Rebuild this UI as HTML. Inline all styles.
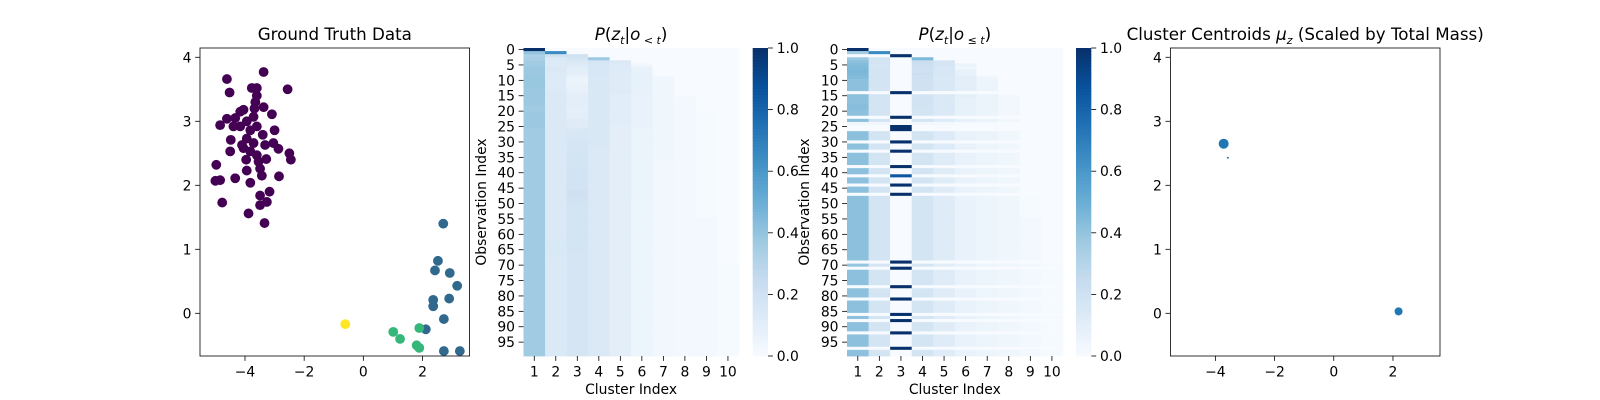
<!DOCTYPE html>
<html><head><meta charset="utf-8">
<style>
html,body{margin:0;padding:0;background:#fff;}
svg{display:block;font-family:"DejaVu Sans","Liberation Sans",sans-serif;}
</style></head>
<body>
<svg id="fig" width="1600" height="400" viewBox="0 0 1600 400" xmlns="http://www.w3.org/2000/svg"></svg>
<script>
// ---------- DATA ----------
const gtX=[-4.61,-3.37,-4.52,-3.77,-3.6,-3.6,-3.65,-3.68,-2.56,-3.37,-3.09,-4.05,-4.16,-4.61,-4.84,-4.33,-4.39,-4.16,-3.94,-3.71,-3.6,-3.82,-3.0,-3.4,-4.48,-4.1,-3.94,-3.71,-3.32,-3.04,-2.87,-2.5,-2.45,-4.5,-4.05,-3.82,-3.6,-3.96,-3.54,-3.28,-4.97,-3.94,-3.49,-3.43,-5.0,-4.84,-4.33,-3.82,-2.85,-3.49,-3.17,-3.26,-3.49,-4.77,-3.88,-3.34,
 2.7,2.52,2.42,2.92,3.17,2.36,2.9,2.36,2.72,2.11,2.72,3.26,
 1.01,1.24,1.89,1.8,1.89,
 -0.61];
const gtY=[3.66,3.77,3.45,3.52,3.52,3.4,3.3,3.2,3.5,3.22,3.11,3.18,3.15,3.04,2.94,3.05,2.92,2.92,3.0,3.07,2.92,2.86,2.86,2.79,2.71,2.63,2.73,2.66,2.63,2.66,2.57,2.5,2.4,2.53,2.58,2.53,2.47,2.4,2.37,2.41,2.32,2.23,2.26,2.15,2.07,2.08,2.11,2.04,2.14,1.84,1.9,1.74,1.69,1.73,1.56,1.41,
 1.4,0.82,0.67,0.63,0.43,0.21,0.23,0.11,-0.09,-0.25,-0.59,-0.59,
 -0.29,-0.4,-0.23,-0.5,-0.54,
 -0.17];
const gtLabel=[0,0,0,0,0,0,0,0,0,0,0,0,0,0,0,0,0,0,0,0,0,0,0,0,0,0,0,0,0,0,0,0,0,0,0,0,0,0,0,0,0,0,0,0,0,0,0,0,0,0,0,0,0,0,0,0,
 1,1,1,1,1,1,1,1,1,1,1,1, 2,2,2,2,2, 3];
const centX=[-3.72,-3.78,-3.58,2.19];
const centY=[2.65,2.66,2.43,0.03];
const centR=[5,2,1,4];
const clusterTicks=[1,2,3,4,5,6,7,8,9,10];
const obsTicks=[0,5,10,15,20,25,30,35,40,45,50,55,60,65,70,75,80,85,90,95];
const cbarTicks=["0.0","0.2","0.4","0.6","0.8","1.0"];
const axTicksX=[-4,-2,0,2];
const axTicksY=[0,1,2,3,4];

const prior=[
[1,0,0,0,0,0,0,0,0,0],
[.40,.65,0,0,0,0,0,0,0,0],
[.33,.20,.20,0,0,0,0,0,0,0],
[.34,.14,.18,.38,0,0,0,0,0,0],
[.36,.13,.14,.17,.14,0,0,0,0,0],
[.37,.13,.13,.16,.13,.03,0,0,0,0],
[.38,.14,.11,.16,.13,.07,0,0,0,0],
[.38,.14,.10,.16,.13,.08,0,0,0,0],
[.38,.13,.09,.16,.12,.08,0,0,0,0],
[.39,.13,.07,.15,.12,.08,.03,0,0,0],
[.39,.13,.06,.15,.12,.08,.04,0,0,0],
[.39,.13,.06,.15,.12,.08,.04,0,0,0],
[.39,.13,.07,.15,.12,.08,.04,0,0,0],
[.38,.13,.07,.15,.12,.08,.04,0,0,0],
[.38,.14,.09,.15,.12,.08,.04,0,0,0],
[.38,.14,.10,.15,.11,.07,.04,.01,0,0],
[.38,.14,.10,.15,.11,.07,.04,.02,0,0],
[.38,.14,.10,.15,.11,.07,.04,.02,0,0],
[.38,.14,.10,.15,.11,.07,.04,.02,0,0],
[.37,.14,.09,.15,.11,.07,.04,.02,0,0],
[.37,.14,.09,.15,.11,.07,.04,.02,.01,0],
[.38,.14,.10,.15,.11,.07,.04,.02,.01,0],
[.38,.14,.10,.15,.11,.07,.04,.02,.01,0],
[.38,.14,.12,.15,.11,.07,.04,.02,.01,0],
[.38,.14,.12,.15,.11,.07,.04,.02,.01,0],
[.38,.14,.12,.15,.10,.07,.04,.02,.01,0],
[.37,.14,.15,.15,.10,.06,.04,.02,.01,0],
[.37,.14,.16,.15,.10,.06,.04,.02,.01,0],
[.37,.14,.16,.15,.10,.06,.04,.02,.01,0],
[.37,.14,.16,.15,.10,.06,.04,.02,.01,0],
[.37,.14,.17,.15,.10,.06,.04,.02,.01,0],
[.37,.14,.17,.15,.10,.06,.04,.02,.01,0],
[.37,.14,.17,.14,.10,.06,.04,.02,.01,0],
[.37,.14,.17,.14,.10,.06,.04,.02,.01,0],
[.37,.14,.18,.14,.10,.06,.04,.02,.01,0],
[.37,.14,.18,.14,.10,.06,.04,.02,.01,0],
[.37,.14,.18,.14,.10,.06,.03,.02,.01,0],
[.37,.14,.18,.14,.10,.06,.03,.02,.01,0],
[.37,.14,.18,.14,.10,.06,.03,.02,.01,0],
[.37,.14,.19,.14,.10,.06,.03,.02,.01,0],
[.37,.14,.19,.14,.10,.06,.03,.02,.01,0],
[.37,.14,.19,.14,.10,.06,.03,.02,.01,0],
[.37,.14,.19,.14,.10,.06,.03,.02,.01,0],
[.37,.14,.19,.14,.10,.06,.03,.02,.01,0],
[.37,.14,.19,.14,.10,.06,.03,.02,.01,0],
[.37,.14,.19,.14,.10,.06,.03,.02,.01,0],
[.37,.14,.20,.14,.10,.06,.03,.02,.01,0],
[.37,.14,.20,.14,.10,.06,.03,.02,.01,0],
[.37,.14,.20,.14,.10,.06,.03,.02,.01,0],
[.37,.14,.19,.14,.10,.06,.03,.02,.01,0],
[.37,.14,.19,.14,.10,.05,.03,.02,.01,0],
[.37,.14,.18,.14,.10,.05,.03,.02,.01,0],
[.37,.14,.18,.14,.10,.05,.03,.02,.01,0],
[.37,.14,.18,.14,.10,.05,.03,.02,.01,0],
[.37,.14,.18,.14,.10,.05,.03,.02,.01,0],
[.37,.14,.18,.14,.10,.05,.03,.02,.02,0],
[.37,.14,.18,.14,.10,.05,.03,.02,.02,0],
[.37,.14,.18,.14,.10,.05,.03,.02,.02,0],
[.37,.14,.18,.14,.10,.05,.03,.02,.02,0],
[.37,.14,.18,.14,.10,.05,.03,.02,.02,0],
[.37,.14,.18,.14,.10,.05,.03,.02,.02,0],
[.37,.14,.18,.14,.10,.05,.03,.02,.02,0],
[.37,.15,.18,.14,.10,.05,.03,.02,.02,0],
[.37,.15,.18,.14,.10,.05,.03,.02,.02,0],
[.37,.15,.18,.14,.10,.05,.03,.02,.02,0],
[.37,.15,.18,.14,.10,.05,.03,.02,.02,0],
[.37,.15,.17,.14,.10,.05,.03,.02,.02,0],
[.37,.15,.17,.14,.10,.05,.03,.02,.02,0],
[.37,.14,.17,.14,.10,.05,.03,.02,.02,0],
[.37,.14,.17,.14,.10,.05,.03,.02,.02,0],
[.37,.14,.17,.14,.10,.05,.03,.02,.02,.01],
[.37,.14,.17,.14,.10,.05,.03,.02,.02,.01],
[.37,.14,.17,.14,.10,.05,.03,.02,.02,.01],
[.37,.14,.17,.14,.10,.05,.03,.02,.02,.01],
[.37,.14,.17,.14,.10,.05,.03,.02,.02,.01],
[.37,.14,.17,.14,.10,.05,.03,.02,.02,.01],
[.37,.14,.17,.14,.10,.05,.03,.02,.02,.01],
[.37,.14,.17,.14,.10,.05,.03,.02,.02,.01],
[.37,.14,.17,.14,.10,.05,.03,.02,.02,.01],
[.37,.14,.17,.14,.10,.05,.03,.02,.02,.01],
[.37,.14,.17,.14,.10,.05,.03,.02,.02,.01],
[.37,.14,.17,.14,.10,.05,.03,.02,.02,.01],
[.37,.14,.17,.14,.10,.05,.03,.02,.02,.01],
[.37,.14,.17,.14,.10,.05,.03,.02,.02,.01],
[.37,.14,.17,.14,.10,.05,.03,.02,.02,.01],
[.37,.14,.17,.14,.10,.05,.03,.02,.02,.01],
[.37,.14,.17,.14,.10,.05,.03,.02,.02,.01],
[.37,.14,.17,.14,.10,.05,.03,.02,.02,.01],
[.37,.14,.17,.14,.10,.05,.03,.02,.02,.01],
[.37,.14,.17,.14,.10,.05,.03,.02,.02,.01],
[.37,.14,.17,.14,.10,.05,.03,.02,.02,.01],
[.37,.14,.17,.14,.10,.05,.03,.02,.02,.01],
[.37,.14,.17,.14,.10,.05,.03,.02,.02,.01],
[.37,.14,.17,.14,.10,.05,.03,.02,.02,.01],
[.37,.14,.17,.14,.10,.05,.03,.02,.02,.01],
[.37,.14,.17,.14,.10,.05,.03,.02,.02,.01],
[.37,.14,.17,.14,.10,.05,.03,.02,.02,.01],
[.37,.14,.17,.14,.10,.05,.03,.02,.02,.01],
[.37,.14,.17,.14,.10,.05,.03,.02,.02,.01],
[.37,.14,.17,.14,.10,.05,.03,.02,.02,.01]
];

const posterior=[
[1,0,0,0,0,0,0,0,0,0],
[.35,.65,0,0,0,0,0,0,0,0],
[0,0,1,0,0,0,0,0,0,0],
[.38,.18,0,.45,0,0,0,0,0,0],
[.42,.18,0,.22,.17,0,0,0,0,0],
[.44,.17,0,.22,.17,.06,0,0,0,0],
[.45,.17,0,.21,.16,.04,0,0,0,0],
[.46,.18,0,.20,.16,.08,0,0,0,0],
[.45,.18,0,.22,.16,.08,0,0,0,0],
[.44,.18,0,.21,.15,.10,.04,0,0,0],
[.42,.18,0,.20,.15,.10,.05,0,0,0],
[.42,.18,0,.20,.15,.10,.05,0,0,0],
[.42,.18,0,.20,.15,.10,.05,0,0,0],
[.42,.17,0,.20,.15,.10,.05,0,0,0],
[0,0,1,0,0,0,0,0,0,0],
[.42,.18,0,.18,.14,.09,.06,.02,0,0],
[.42,.18,0,.19,.14,.08,.06,.03,0,0],
[.42,.18,0,.18,.14,.08,.06,.03,0,0],
[.43,.18,0,.19,.14,.08,.06,.03,0,0],
[.43,.18,0,.18,.14,.08,.06,.03,0,0],
[.42,.18,0,.18,.14,.08,.06,.03,0,0],
[.42,.18,0,.18,.14,.08,.06,.03,0,0],
[0,0,1,0,0,0,0,0,0,0],
[.42,.18,0,.18,.12,.08,.06,.03,0,0],
[.04,.03,0,.03,.02,.01,.01,0,0,0],
[0,0,1,0,0,0,0,0,0,0],
[0,0,1,0,0,0,0,0,0,0],
[.42,.18,0,.18,.13,.07,.06,.04,0,0],
[.42,.18,0,.18,.13,.07,.06,.04,0,0],
[.42,.18,0,.18,.13,.07,.06,.04,0,0],
[0,0,1,0,0,0,0,0,0,0],
[.42,.18,0,.18,.13,.07,.05,.04,0,0],
[.42,.18,0,.18,.13,.07,.05,.04,0,0],
[0,0,1,0,0,0,0,0,0,0],
[.42,.18,0,.18,.12,.07,.05,.04,0,0],
[.42,.18,0,.18,.12,.07,.05,.04,0,0],
[.42,.18,0,.18,.12,.07,.05,.04,0,0],
[.42,.18,0,.18,.12,.07,.05,.04,0,0],
[0,0,1,0,0,0,0,0,0,0],
[.42,.18,0,.18,.12,.07,.05,.04,0,0],
[.42,.18,0,.18,.12,.07,.05,.04,0,0],
[0,0,.85,0,0,0,0,0,0,0],
[.42,.18,0,.18,.12,.07,.05,.04,0,0],
[.42,.18,0,.18,.12,.07,.05,.04,0,0],
[0,0,1,0,0,0,0,0,0,0],
[.42,.18,0,.18,.12,.07,.05,.04,0,0],
[.42,.18,0,.18,.12,.07,.05,.04,0,0],
[0,0,1,0,0,0,0,0,0,0],
[.42,.18,0,.18,.12,.07,.05,.04,.01,0],
[.42,.18,0,.18,.12,.07,.05,.04,.01,0],
[.42,.18,0,.18,.12,.07,.05,.04,.01,0],
[.42,.18,0,.18,.12,.07,.05,.04,.01,0],
[.42,.18,0,.18,.12,.07,.05,.04,.01,0],
[.42,.18,0,.18,.12,.07,.05,.04,.01,0],
[.42,.18,0,.18,.12,.07,.05,.04,.01,0],
[.42,.18,0,.18,.12,.07,.05,.04,.02,0],
[.42,.18,0,.18,.12,.07,.05,.04,.02,0],
[.42,.18,0,.18,.12,.07,.05,.04,.02,0],
[.42,.18,0,.18,.12,.07,.05,.04,.02,0],
[.42,.18,0,.18,.12,.07,.05,.04,.02,0],
[.42,.18,0,.18,.12,.07,.05,.04,.02,0],
[.42,.18,0,.18,.12,.07,.05,.04,.02,0],
[.42,.18,0,.18,.12,.07,.05,.04,.02,0],
[.42,.18,0,.18,.12,.07,.05,.04,.02,0],
[.42,.18,0,.18,.12,.07,.05,.04,.02,0],
[.42,.18,0,.18,.12,.07,.05,.04,.02,0],
[.42,.18,0,.18,.12,.07,.05,.04,.02,0],
[.42,.18,0,.18,.12,.07,.05,.04,.02,0],
[.42,.18,0,.18,.12,.07,.05,.04,.02,0],
[0,0,1,0,0,0,0,0,0,0],
[.40,.17,0,.17,.11,.07,.05,.04,.03,.01],
[0,0,1,0,0,0,0,0,0,0],
[.42,.18,0,.18,.12,.07,.05,.04,.02,.01],
[.42,.18,0,.18,.12,.07,.05,.04,.02,.01],
[.42,.18,0,.18,.12,.07,.05,.04,.02,.01],
[.42,.18,0,.18,.12,.07,.05,.04,.02,.01],
[.42,.18,0,.18,.12,.07,.05,.04,.02,.01],
[0,0,1,0,0,0,0,0,0,0],
[.42,.18,0,.18,.12,.07,.05,.04,.02,.01],
[.42,.18,0,.18,.12,.07,.05,.04,.02,.01],
[.42,.18,0,.18,.12,.07,.05,.04,.02,.01],
[0,0,1,0,0,0,0,0,0,0],
[.42,.18,0,.18,.12,.07,.05,.04,.02,.01],
[.42,.18,0,.18,.12,.07,.05,.04,.02,.01],
[.42,.18,0,.18,.12,.07,.05,.04,.02,.01],
[.42,.18,0,.18,.12,.07,.05,.04,.02,.01],
[0,0,1,0,0,0,0,0,0,0],
[.42,.18,0,.18,.12,.07,.05,.04,.02,.01],
[0,0,1,0,0,0,0,0,0,0],
[.42,.18,0,.18,.12,.07,.05,.04,.02,.01],
[.42,.18,0,.18,.12,.07,.05,.04,.02,.01],
[.42,.18,0,.18,.12,.07,.05,.04,.02,.01],
[0,0,1,0,0,0,0,0,0,0],
[.42,.18,0,.18,.12,.07,.05,.04,.02,.01],
[.42,.18,0,.18,.12,.07,.05,.04,.02,.01],
[.42,.18,0,.18,.12,.07,.05,.04,.02,.01],
[.42,.18,0,.18,.12,.07,.05,.04,.02,.01],
[0,0,1,0,0,0,0,0,0,0],
[.42,.18,0,.18,.12,.07,.05,.04,.02,.01],
[.42,.18,0,.18,.12,.07,.05,.04,.02,.01]
];

// ---------- RENDER ----------
const NS="http://www.w3.org/2000/svg";
const svg=document.getElementById('fig');
const FS='13.9px', TFS='16.7px', SUB='11px', TL=4.9;
function mk(tag,attrs,parent){const e=document.createElementNS(NS,tag);for(const k in attrs)e.setAttribute(k,attrs[k]);(parent||svg).appendChild(e);return e;}
function txt(s,attrs,parent){const e=mk('text',attrs,parent);e.textContent=s;return e;}
const blues=[[247,251,255],[222,235,247],[198,219,239],[158,202,225],[107,174,214],[66,146,198],[33,113,181],[8,81,156],[8,48,107]];
function cmap(v){v=Math.max(0,Math.min(1,v));const t=v*8;const i=Math.min(7,Math.floor(t));const f=t-i;const a=blues[i],b=blues[i+1];
 return 'rgb('+a.map((c,k)=>Math.round(c+(b[k]-c)*f)).join(',')+')';}
const viridis=['#440154','#31688e','#35b779','#fde725'];
const TOP=48,BOT=356;

function scatterAxes(name,x0,x1,title){
 const g=mk('g',{});
 
 
 const xmin=-5.52,xmax=3.59,ymin=-0.667,ymax=4.145;
 const sx=v=>x0+(v-xmin)/(xmax-xmin)*(x1-x0);
 const sy=v=>BOT-(v-ymin)/(ymax-ymin)*(BOT-TOP);
 axTicksX.forEach(t=>{const x=sx(t);mk('line',{x1:x,x2:x,y1:BOT,y2:BOT+TL,stroke:'#000','stroke-width':0.8},g);
  const l=txt(t<0?'\u2212'+Math.abs(t):String(t),{x:x,y:BOT+20.5,'text-anchor':'middle','font-size':FS,fill:'#000'},g);
  });
 axTicksY.forEach(t=>{const y=sy(t);mk('line',{x1:x0-TL,x2:x0,y1:y,y2:y,stroke:'#000','stroke-width':0.8},g);
  const l=txt(String(t),{x:x0-8.5,y:y+5,'text-anchor':'end','font-size':FS,fill:'#000'},g);
  });
 const tt=txt('',{x:(x0+x1)/2,y:40,'text-anchor':'middle','font-size':TFS,fill:'#000'},g);
 
 title.forEach(p=>{const ts=mk('tspan',p.a||{},tt);ts.textContent=p.t;});
 return {g,sx,sy,x0,x1};
}

// Panel 1
const p1=scatterAxes('ground-truth-panel',200,469.6,[{t:'Ground Truth Data'}]);
gtX.forEach((v,i)=>{const c=mk('circle',{cx:p1.sx(v),cy:p1.sy(gtY[i]),r:4.9,fill:viridis[gtLabel[i]]},p1.g);
 
 });
mk('rect',{x:200,y:TOP,width:269.6,height:BOT-TOP,fill:'none',stroke:'#000','stroke-width':0.8},p1.g);

// Panel 4
const p4=scatterAxes('centroids-panel',1170.4,1440,[{t:'Cluster Centroids '},{t:'\u03bc',a:{'font-style':'italic'}},{t:'z',a:{'font-style':'italic','font-size':SUB,dy:'4'}},{t:' (Scaled by Total Mass)',a:{dy:'-4'}}]);
centX.forEach((v,i)=>{const c=mk('circle',{cx:p4.sx(v),cy:p4.sy(centY[i]),r:centR[i],fill:'#1f77b4'},p4.g);
 
 });
mk('rect',{x:1170.4,y:TOP,width:269.6,height:BOT-TOP,fill:'none',stroke:'#000','stroke-width':0.8},p4.g);

// Heatmaps
function heatmap(name,mat,x0,x1,cbx,titleParts,ylabX){
 const g=mk('g',{});
 
 
 const nr=mat.length,nc=mat[0].length,cw=(x1-x0)/nc,rh=(BOT-TOP)/nr;
 mat.forEach((row,r)=>row.forEach((v,c)=>{const cell=mk('rect',{x:x0+c*cw,y:TOP+r*rh,width:cw+0.4,height:rh+0.4,fill:cmap(v)},g);
  
  }));
 clusterTicks.forEach((t,i)=>{const x=x0+(i+0.5)*cw;mk('line',{x1:x,x2:x,y1:BOT,y2:BOT+TL,stroke:'#000','stroke-width':0.8},g);
  const l=txt(String(t),{x:x,y:BOT+20.5,'text-anchor':'middle','font-size':FS},g);
  });
 obsTicks.forEach(t=>{const y=TOP+(t+0.5)*rh;mk('line',{x1:x0-TL,x2:x0,y1:y,y2:y,stroke:'#000','stroke-width':0.8},g);
  const l=txt(String(t),{x:x0-8.5,y:y+5,'text-anchor':'end','font-size':FS},g);
  });
 const xl=txt('Cluster Index',{x:(x0+x1)/2,y:394,'text-anchor':'middle','font-size':FS},g);
 
 const yl=txt('Observation Index',{x:0,y:0,'text-anchor':'middle','font-size':FS,transform:'translate('+ylabX+','+((TOP+BOT)/2)+') rotate(-90)'},g);
 
 const tt=txt('',{x:(x0+x1)/2,y:40,'text-anchor':'middle','font-size':TFS},g);
 
 titleParts.forEach(p=>{const ts=mk('tspan',p.a||{},tt);ts.textContent=p.t;});
 const cb=mk('g',{},g);
 
 
 const steps=100;
 for(let i=0;i<steps;i++){mk('rect',{x:cbx,y:BOT-(i+1)*(BOT-TOP)/steps,width:15.3,height:(BOT-TOP)/steps+0.5,fill:cmap((i+0.5)/steps)},cb);}
 cbarTicks.forEach(t=>{const y=BOT-parseFloat(t)*(BOT-TOP);mk('line',{x1:cbx+15.3,x2:cbx+15.3+TL,y1:y,y2:y,stroke:'#000','stroke-width':0.8},cb);
  const l=txt(t,{x:cbx+24,y:y+5,'font-size':FS},cb);
  });
}
const it={'font-style':'italic'};
heatmap('prior-heatmap',prior,523.5,738.7,752.7,[{t:'P',a:it},{t:'('},{t:'z',a:it},{t:'t',a:{'font-style':'italic','font-size':SUB,dy:'4'}},{t:'|',a:{dy:'-4'}},{t:'o',a:it},{t:' < ',a:{'font-size':SUB,dy:'4'}},{t:'t',a:{'font-style':'italic','font-size':SUB}},{t:')',a:{dy:'-4'}}],486);
heatmap('posterior-heatmap',posterior,847,1062.7,1076,[{t:'P',a:it},{t:'('},{t:'z',a:it},{t:'t',a:{'font-style':'italic','font-size':SUB,dy:'4'}},{t:'|',a:{dy:'-4'}},{t:'o',a:it},{t:' \u2264 ',a:{'font-size':SUB,dy:'4'}},{t:'t',a:{'font-style':'italic','font-size':SUB}},{t:')',a:{dy:'-4'}}],809);
</script>
</body></html>
